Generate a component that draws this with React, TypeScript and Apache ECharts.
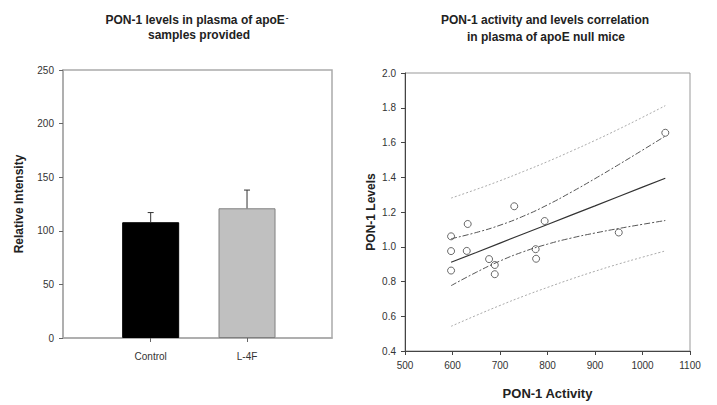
import React, { useEffect, useRef } from "react";
import * as echarts from "echarts";

const barCategories = ["Control", "L-4F"];
const barValues = [108, 121];
const barErrorTops = [117, 138];
const barColors = ["#000000", "#c0c0c0"];

const activity = [597, 597, 597, 632, 630, 677, 689, 689, 730, 775, 776, 794, 950, 1048];
const levels = [1.06, 0.975, 0.863, 1.131, 0.976, 0.929, 0.895, 0.842, 1.233, 0.986, 0.931, 1.148, 1.082, 1.656];

const fitX = [597, 650, 700, 750, 800, 850, 900, 950, 1000, 1048];
const fitY = [0.911, 0.967, 1.021, 1.075, 1.128, 1.182, 1.235, 1.289, 1.343, 1.394];
const ciUpper = [1.046, 1.082, 1.124, 1.177, 1.241, 1.314, 1.392, 1.473, 1.556, 1.637];
const ciLower = [0.776, 0.853, 0.918, 0.972, 1.015, 1.05, 1.079, 1.105, 1.129, 1.151];
const piUpper = [1.28, 1.33, 1.38, 1.434, 1.49, 1.55, 1.612, 1.677, 1.745, 1.812];
const piLower = [0.542, 0.605, 0.662, 0.716, 0.766, 0.814, 0.859, 0.901, 0.94, 0.976];

const leftTicks = [0, 50, 100, 150, 200, 250];
const rightXTicks = [500, 600, 700, 800, 900, 1000, 1100];
const rightYTicks = [0.4, 0.6, 0.8, 1.0, 1.2, 1.4, 1.6, 1.8, 2.0];

const FONT = "'Liberation Sans', Arial, sans-serif";

export default function App() {
  const ref = useRef<HTMLDivElement>(null);
  useEffect(() => {
    document.body.style.margin = "0";
    if (!ref.current) return;
    const chart = echarts.init(ref.current, null, { renderer: "svg" });
    const zip = (xs: number[], ys: number[]) => xs.map((x, i) => [x, ys[i]]);
    const labelStyle = { fontFamily: FONT, fontSize: 10, color: "#333" };
    const nameStyle = { fontFamily: FONT, fontSize: 12, fontWeight: "bold" as const, color: "#222" };
    const option: any = {
      animation: false,
      backgroundColor: "#ffffff",
      textStyle: { fontFamily: FONT },
      graphic: [
        {
          type: "text",
          x: 197,
          y: 20,
          style: {
            text: "PON-1 levels in plasma of apoE{s|-}",
            rich: { s: { fontSize: 8, fontWeight: "bold", fontFamily: FONT, fill: "#222", verticalAlign: "top", padding: [0, 0, 6, 1] } },
            fontFamily: FONT,
            fontSize: 12,
            fontWeight: "bold",
            fill: "#222",
            align: "center",
            verticalAlign: "middle",
          },
        },
        {
          type: "text",
          x: 199,
          y: 35,
          style: { text: "samples provided", fontFamily: FONT, fontSize: 12, fontWeight: "bold", fill: "#222", align: "center", verticalAlign: "middle" },
        },
        {
          type: "text",
          x: 545,
          y: 20,
          style: { text: "PON-1 activity and levels correlation", fontFamily: FONT, fontSize: 12, fontWeight: "bold", fill: "#222", align: "center", verticalAlign: "middle" },
        },
        {
          type: "text",
          x: 546,
          y: 37,
          style: { text: "in plasma of apoE null mice", fontFamily: FONT, fontSize: 12, fontWeight: "bold", fill: "#222", align: "center", verticalAlign: "middle" },
        },
      ],
      grid: [
        { left: 63, right: 385, top: 70, bottom: 67, show: true, borderColor: "#aaaaaa", borderWidth: 1.5, backgroundColor: "transparent" },
        { left: 102.5, right: 421.8, top: 70, bottom: 67 },
        { left: 405, right: 27, top: 73, bottom: 49, show: true, borderColor: "#999999", borderWidth: 1, backgroundColor: "transparent" },
      ],
      xAxis: [
        { gridIndex: 0, type: "value", min: 0, max: 1, axisLine: { show: true, lineStyle: { color: "#aaaaaa", width: 1.5 } }, axisTick: { show: false }, axisLabel: { show: false }, splitLine: { show: false } },
        {
          gridIndex: 1,
          type: "category",
          data: barCategories,
          axisLine: { show: false },
          axisTick: { show: true, alignWithLabel: true, length: 4, lineStyle: { color: "#666" } },
          axisLabel: { ...labelStyle, fontSize: 10, margin: 13 },
          splitLine: { show: false },
        },
        {
          gridIndex: 2,
          type: "value",
          min: 500,
          max: 1100,
          interval: 100,
          axisLine: { show: true, lineStyle: { color: "#444", width: 1 } },
          axisTick: { show: true, length: 4, lineStyle: { color: "#444" } },
          axisLabel: { ...labelStyle, margin: 9, formatter: (v: number) => (rightXTicks.includes(v) ? String(v) : "") },
          splitLine: { show: false },
          name: "PON-1 Activity",
          nameLocation: "middle",
          nameGap: 36,
          nameTextStyle: { ...nameStyle, fontSize: 13 },
        },
      ],
      yAxis: [
        {
          gridIndex: 0,
          type: "value",
          min: 0,
          max: 250,
          interval: 50,
          axisLine: { show: true, lineStyle: { color: "#aaaaaa", width: 1.5 } },
          axisTick: { show: true, length: 4, lineStyle: { color: "#666" } },
          axisLabel: { ...labelStyle, margin: 9, formatter: (v: number) => (leftTicks.includes(v) ? String(v) : "") },
          splitLine: { show: false },
          name: "Relative Intensity",
          nameLocation: "middle",
          nameGap: 38,
          nameTextStyle: nameStyle,
        },
        { gridIndex: 1, type: "value", min: 0, max: 250, show: false },
        {
          gridIndex: 2,
          type: "value",
          min: 0.4,
          max: 2.0,
          interval: 0.2,
          axisLine: { show: true, lineStyle: { color: "#444", width: 1 } },
          axisTick: { show: true, length: 4, lineStyle: { color: "#444" } },
          axisLabel: {
            ...labelStyle,
            margin: 9,
            formatter: (v: number) => {
              const r = Math.round(v * 10) / 10;
              return rightYTicks.some((t) => Math.abs(t - r) < 1e-6) ? r.toFixed(1) : "";
            },
          },
          splitLine: { show: false },
          name: "PON-1 Levels",
          nameLocation: "middle",
          nameGap: 28,
          nameTextStyle: nameStyle,
        },
      ],
      series: [
        {
          type: "bar",
          xAxisIndex: 1,
          yAxisIndex: 1,
          barWidth: 57,
          data: barValues.map((v, i) => ({
            value: v,
            itemStyle: { color: barColors[i], borderColor: i === 0 ? "#000" : "#808080", borderWidth: 1 },
          })),
          z: 2,
        },
        {
          type: "custom",
          xAxisIndex: 1,
          yAxisIndex: 1,
          data: barValues.map((v, i) => [i, v, barErrorTops[i]]),
          renderItem: (params: any, api: any) => {
            const base = api.coord([api.value(0), api.value(1)]);
            const top = api.coord([api.value(0), api.value(2)]);
            const st = { stroke: "#333", lineWidth: 1 };
            return {
              type: "group",
              children: [
                { type: "line", shape: { x1: base[0], y1: base[1], x2: top[0], y2: top[1] }, style: st },
                { type: "line", shape: { x1: top[0] - 3, y1: top[1], x2: top[0] + 3, y2: top[1] }, style: st },
              ],
            };
          },
          z: 3,
        },
        {
          type: "line",
          xAxisIndex: 2,
          yAxisIndex: 2,
          data: zip(fitX, piUpper),
          showSymbol: false,
          smooth: true,
          lineStyle: { color: "#aaaaaa", width: 1, type: [2, 2] },
        },
        {
          type: "line",
          xAxisIndex: 2,
          yAxisIndex: 2,
          data: zip(fitX, piLower),
          showSymbol: false,
          smooth: true,
          lineStyle: { color: "#aaaaaa", width: 1, type: [2, 2] },
        },
        {
          type: "line",
          xAxisIndex: 2,
          yAxisIndex: 2,
          data: zip(fitX, ciUpper),
          showSymbol: false,
          smooth: true,
          lineStyle: { color: "#555555", width: 1, type: [6, 2, 2, 2] },
        },
        {
          type: "line",
          xAxisIndex: 2,
          yAxisIndex: 2,
          data: zip(fitX, ciLower),
          showSymbol: false,
          smooth: true,
          lineStyle: { color: "#555555", width: 1, type: [6, 2, 2, 2] },
        },
        {
          type: "line",
          xAxisIndex: 2,
          yAxisIndex: 2,
          data: zip(fitX, fitY),
          showSymbol: false,
          lineStyle: { color: "#333333", width: 1.2 },
        },
        {
          type: "scatter",
          xAxisIndex: 2,
          yAxisIndex: 2,
          data: zip(activity, levels),
          symbol: "circle",
          symbolSize: 7,
          itemStyle: { color: "rgba(255,255,255,0)", borderColor: "#444", borderWidth: 1 },
          z: 5,
        },
      ],
    };
    chart.setOption(option);
    return () => chart.dispose();
  }, []);
  return <div ref={ref} style={{ width: 717, height: 405 }} />;
}
